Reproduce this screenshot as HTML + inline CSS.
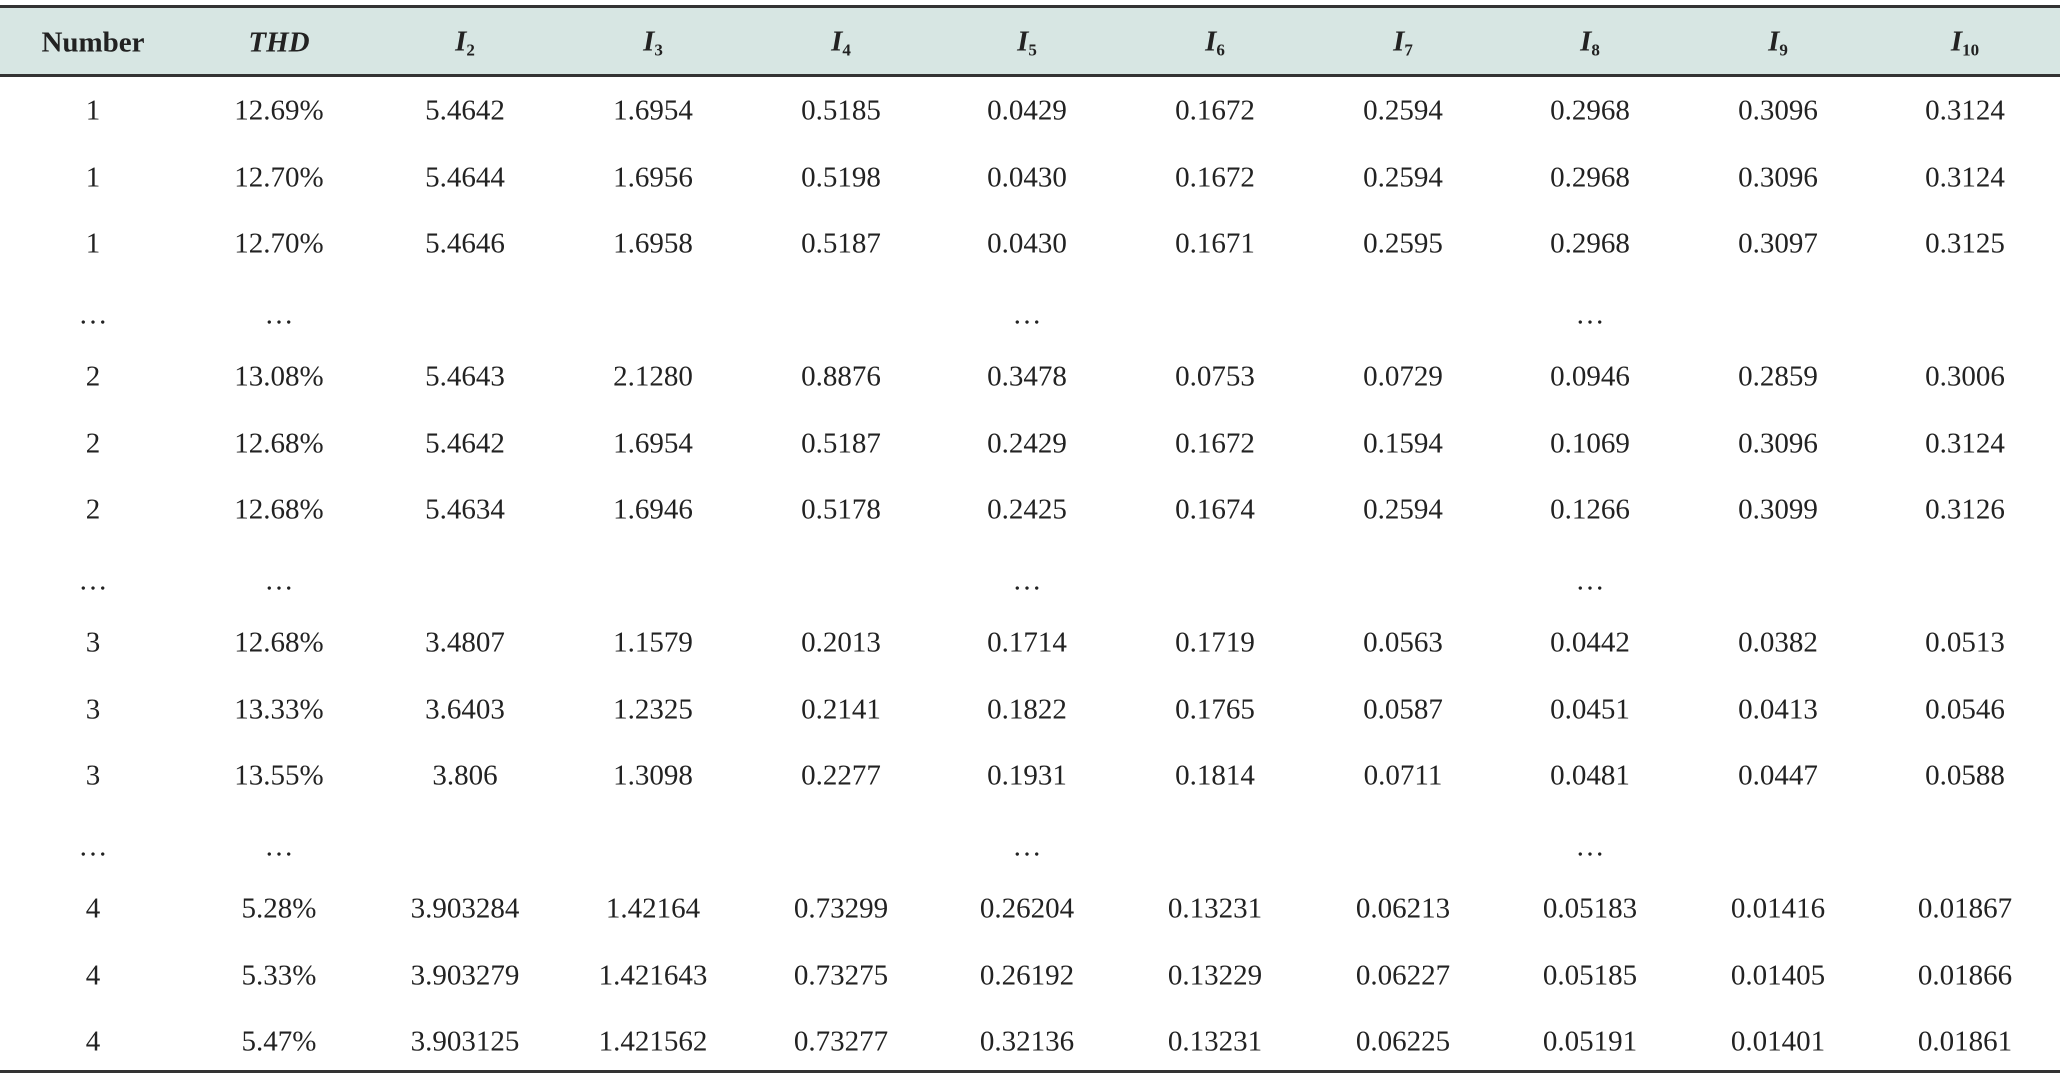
<!DOCTYPE html>
<html><head><meta charset="utf-8">
<style>
html,body{margin:0;padding:0;background:#fff;}
#t{position:relative;width:2060px;height:1078px;overflow:hidden;font-family:"Liberation Serif",serif;color:#222;}
.hb{position:absolute;left:0;top:8px;width:2060px;height:67px;background:#d7e6e3;}
.ln{position:absolute;left:0;width:2060px;height:3px;background:#333;}
.c{position:absolute;transform:translate(-50%,-50%);font-size:29px;white-space:nowrap;line-height:1;}
.h{font-weight:bold;}
.i{font-style:italic;}
sub{font-size:17px;vertical-align:-5px;}
</style></head><body>
<div id="t">
<div class="hb"></div>
<div class="ln" style="top:5px"></div>
<div class="ln" style="top:74px"></div>
<div class="ln" style="top:1070px"></div>
</div>
<script>
const colX=[93,279,465,653,841,1027,1215,1403,1590,1778,1965];
const headers=['Number','<i>THD</i>','<i>I</i><sub>2</sub>','<i>I</i><sub>3</sub>','<i>I</i><sub>4</sub>','<i>I</i><sub>5</sub>','<i>I</i><sub>6</sub>','<i>I</i><sub>7</sub>','<i>I</i><sub>8</sub>','<i>I</i><sub>9</sub>','<i>I</i><sub>10</sub>'];
const E=['…','…','','','','…','','','…','',''];
const rows=[
['1','12.69%','5.4642','1.6954','0.5185','0.0429','0.1672','0.2594','0.2968','0.3096','0.3124'],
['1','12.70%','5.4644','1.6956','0.5198','0.0430','0.1672','0.2594','0.2968','0.3096','0.3124'],
['1','12.70%','5.4646','1.6958','0.5187','0.0430','0.1671','0.2595','0.2968','0.3097','0.3125'],
E,
['2','13.08%','5.4643','2.1280','0.8876','0.3478','0.0753','0.0729','0.0946','0.2859','0.3006'],
['2','12.68%','5.4642','1.6954','0.5187','0.2429','0.1672','0.1594','0.1069','0.3096','0.3124'],
['2','12.68%','5.4634','1.6946','0.5178','0.2425','0.1674','0.2594','0.1266','0.3099','0.3126'],
E,
['3','12.68%','3.4807','1.1579','0.2013','0.1714','0.1719','0.0563','0.0442','0.0382','0.0513'],
['3','13.33%','3.6403','1.2325','0.2141','0.1822','0.1765','0.0587','0.0451','0.0413','0.0546'],
['3','13.55%','3.806','1.3098','0.2277','0.1931','0.1814','0.0711','0.0481','0.0447','0.0588'],
E,
['4','5.28%','3.903284','1.42164','0.73299','0.26204','0.13231','0.06213','0.05183','0.01416','0.01867'],
['4','5.33%','3.903279','1.421643','0.73275','0.26192','0.13229','0.06227','0.05185','0.01405','0.01866'],
['4','5.47%','3.903125','1.421562','0.73277','0.32136','0.13231','0.06225','0.05191','0.01401','0.01861']
];
const t=document.getElementById('t');
headers.forEach((h,j)=>{
 const d=document.createElement('div');
 d.className='c h';d.style.left=colX[j]+'px';d.style.top='43px';d.innerHTML=h;
 
 
 t.appendChild(d);
});
rows.forEach((r,i)=>{
 const y=111+i*66.5;
 r.forEach((v,j)=>{
  if(!v)return;
  const d=document.createElement('div');
  d.className='c';d.style.left=colX[j]+'px';d.style.top=(y+(v==='…'?4:0))+'px';d.textContent=v;
  
  
  t.appendChild(d);
 });
});
</script>
</body></html>
